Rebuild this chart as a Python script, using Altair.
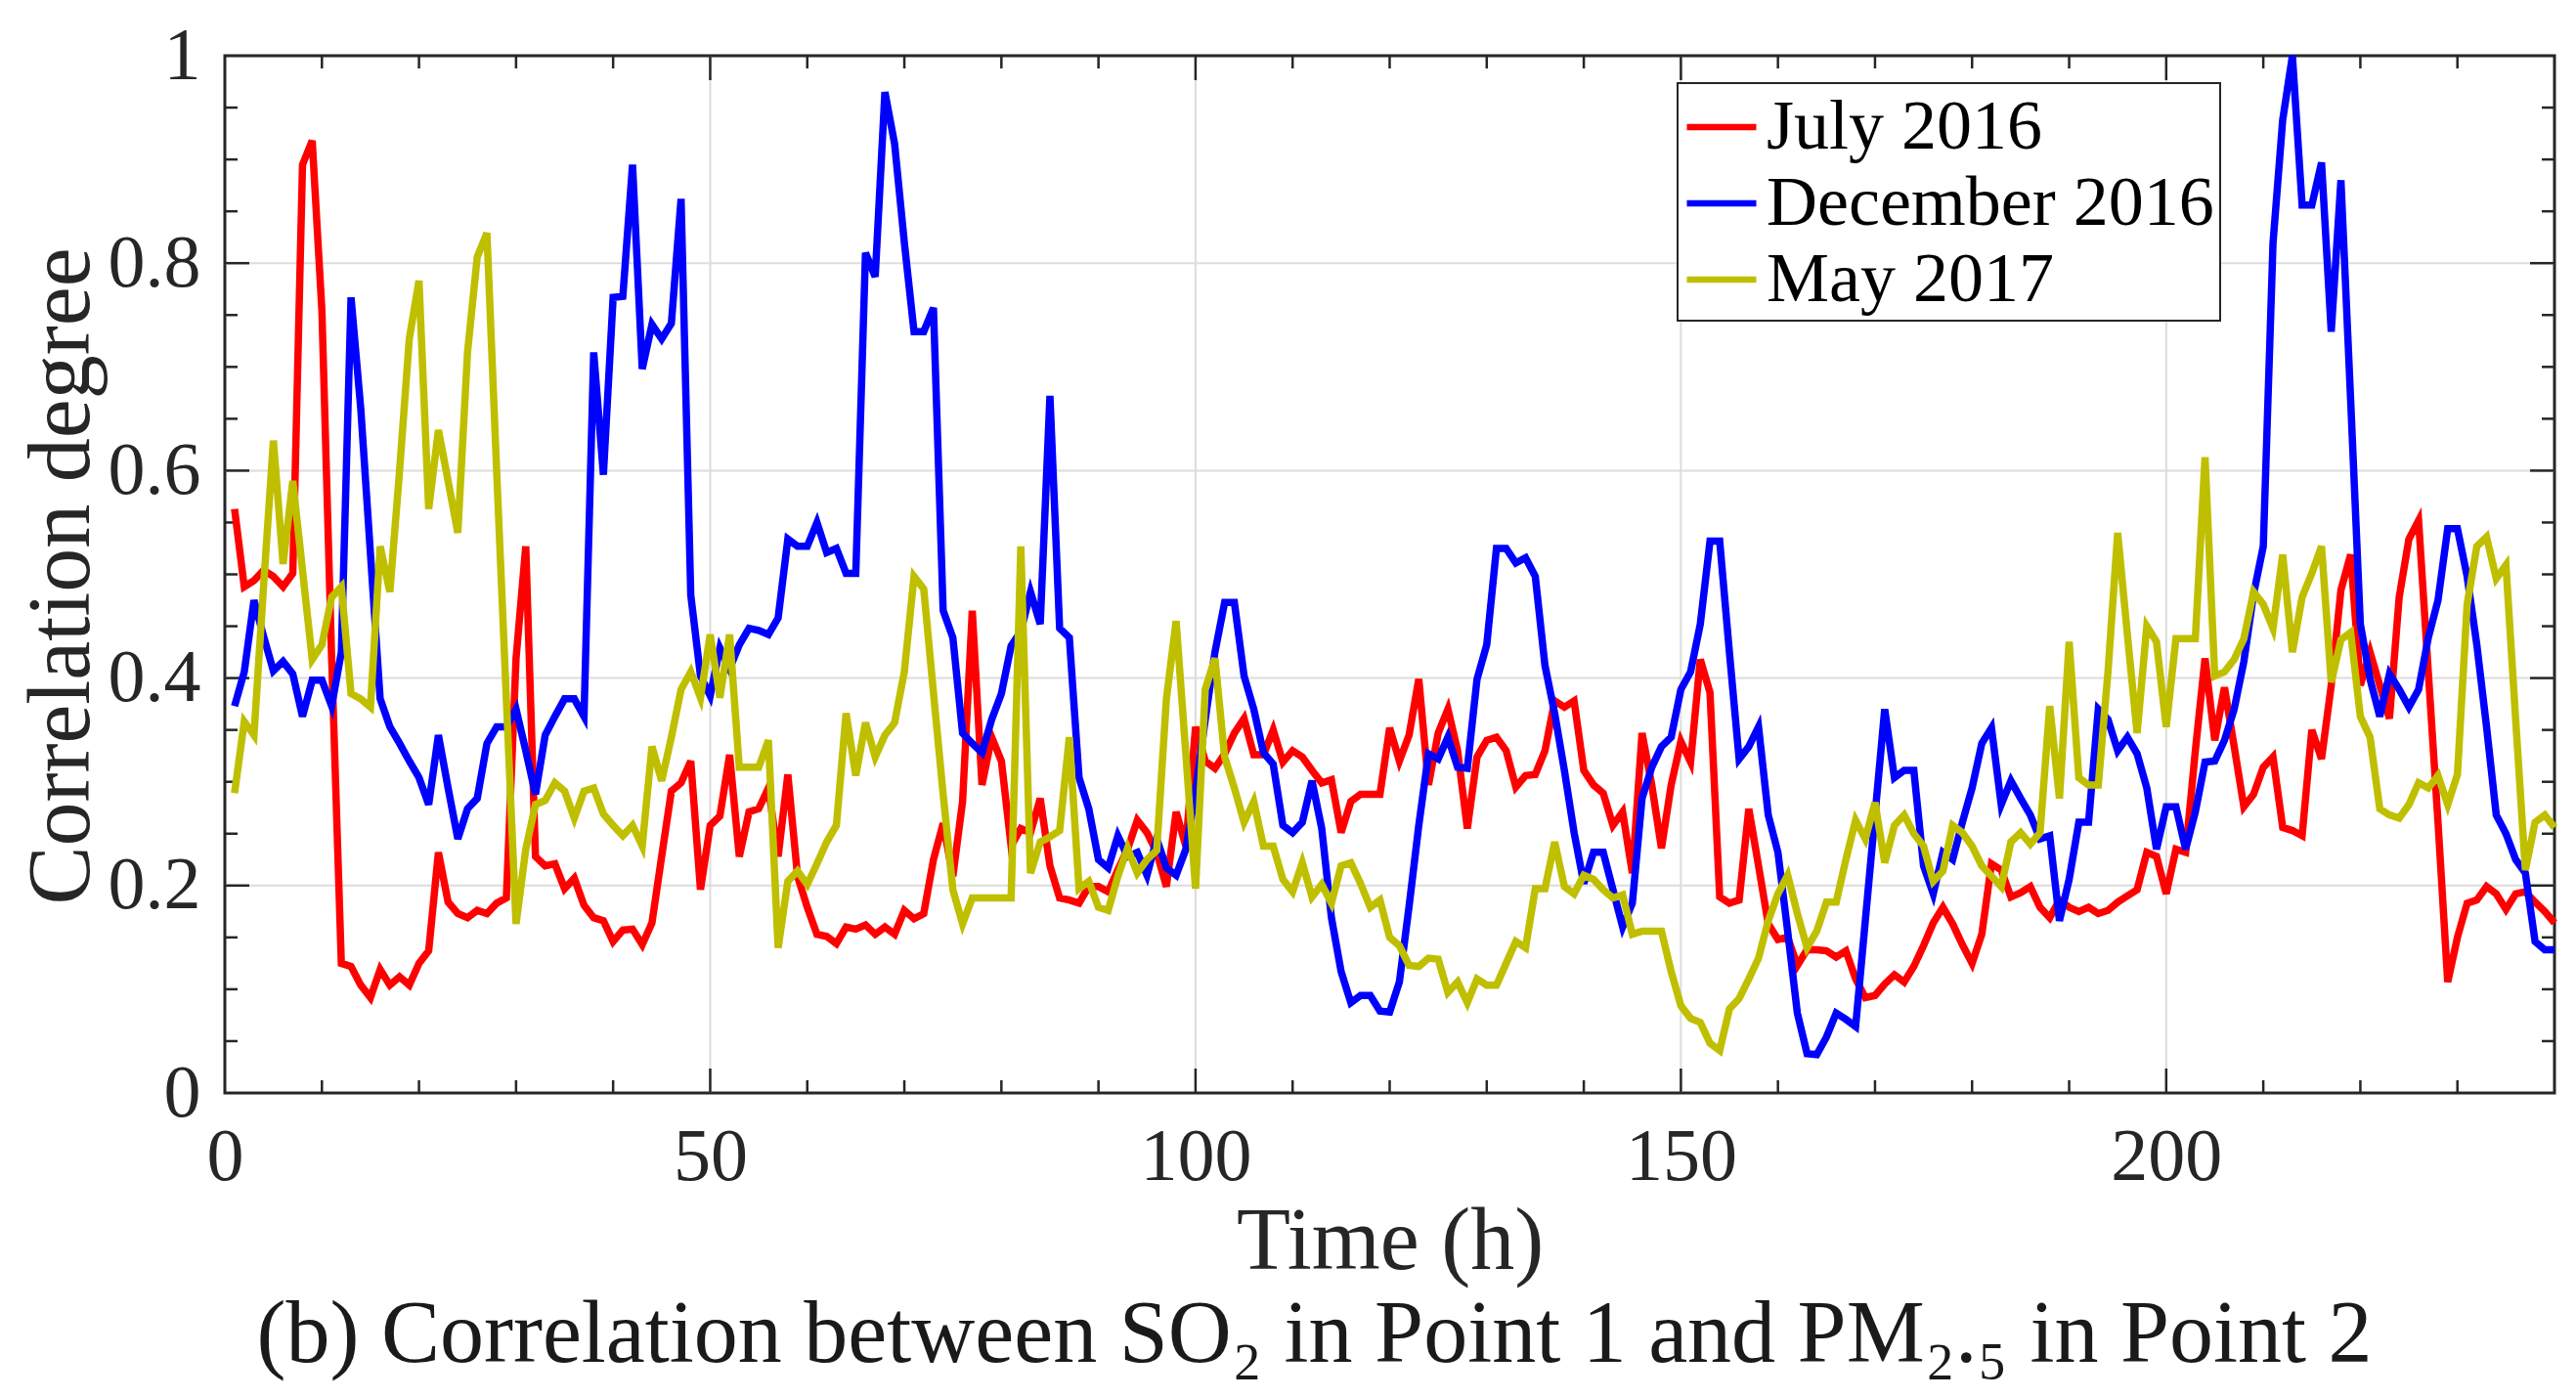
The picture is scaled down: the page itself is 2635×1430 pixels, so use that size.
import altair as alt
import pandas as pd

# ---------------- data ----------------
hours = list(range(1, 241))
series_names = ["July 2016", "December 2016", "May 2017"]
series_colors = ["#ff0000", "#0000ff", "#bfbf00"]

july_2016 = [
    0.563, 0.488, 0.494, 0.504, 0.498, 0.488, 0.501, 0.895, 0.918, 0.754,
    0.420, 0.125, 0.122, 0.104, 0.092, 0.119, 0.104, 0.112, 0.104, 0.125,
    0.137, 0.232, 0.184, 0.173, 0.169, 0.176, 0.173, 0.183, 0.188, 0.419,
    0.527, 0.228, 0.219, 0.221, 0.197, 0.207, 0.181, 0.169, 0.166, 0.146,
    0.157, 0.158, 0.143, 0.164, 0.228, 0.291, 0.299, 0.320, 0.196, 0.258,
    0.267, 0.326, 0.228, 0.271, 0.274, 0.294, 0.228, 0.307, 0.209, 0.179,
    0.153, 0.151, 0.144, 0.160, 0.158, 0.162, 0.153, 0.160, 0.153, 0.176,
    0.168, 0.173, 0.225, 0.260, 0.209, 0.281, 0.465, 0.297, 0.343, 0.320,
    0.238, 0.255, 0.251, 0.284, 0.219, 0.188, 0.186, 0.183, 0.199, 0.199,
    0.194, 0.215, 0.235, 0.263, 0.251, 0.232, 0.199, 0.271, 0.238, 0.353,
    0.320, 0.313, 0.327, 0.347, 0.361, 0.326, 0.326, 0.350, 0.319, 0.330,
    0.324, 0.311, 0.299, 0.302, 0.251, 0.281, 0.288, 0.288, 0.288, 0.352,
    0.320, 0.345, 0.399, 0.297, 0.347, 0.370, 0.330, 0.255, 0.324, 0.340,
    0.343, 0.330, 0.295, 0.306, 0.307, 0.330, 0.378, 0.372, 0.378, 0.311,
    0.297, 0.289, 0.258, 0.271, 0.212, 0.347, 0.297, 0.236, 0.297, 0.339,
    0.319, 0.418, 0.386, 0.189, 0.183, 0.186, 0.274, 0.219, 0.163, 0.148,
    0.150, 0.123, 0.138, 0.138, 0.137, 0.131, 0.137, 0.110, 0.092, 0.094,
    0.105, 0.114, 0.107, 0.122, 0.142, 0.164, 0.179, 0.163, 0.143, 0.125,
    0.153, 0.221, 0.215, 0.189, 0.193, 0.199, 0.179, 0.169, 0.186, 0.179,
    0.175, 0.179, 0.173, 0.176, 0.184, 0.190, 0.196, 0.232, 0.228, 0.192,
    0.235, 0.232, 0.330, 0.419, 0.340, 0.391, 0.334, 0.276, 0.288, 0.314,
    0.324, 0.256, 0.253, 0.248, 0.350, 0.322, 0.393, 0.485, 0.519, 0.393,
    0.425, 0.393, 0.361, 0.478, 0.534, 0.552, 0.406, 0.261, 0.107, 0.150,
    0.183, 0.186, 0.199, 0.192, 0.177, 0.192, 0.194, 0.184, 0.175, 0.164,
]

december_2016 = [
    0.373, 0.406, 0.475, 0.440, 0.407, 0.416, 0.404, 0.363, 0.398, 0.398,
    0.373, 0.425, 0.767, 0.660, 0.520, 0.380, 0.353, 0.337, 0.320, 0.304,
    0.278, 0.345, 0.294, 0.245, 0.274, 0.284, 0.337, 0.353, 0.353, 0.370,
    0.330, 0.288, 0.345, 0.363, 0.380, 0.380, 0.363, 0.714, 0.596, 0.767,
    0.768, 0.895, 0.698, 0.741, 0.727, 0.742, 0.862, 0.480, 0.402, 0.383,
    0.429, 0.409, 0.432, 0.448, 0.446, 0.442, 0.458, 0.534, 0.527, 0.527,
    0.550, 0.521, 0.525, 0.501, 0.501, 0.810, 0.787, 0.965, 0.915, 0.820,
    0.734, 0.734, 0.757, 0.465, 0.439, 0.347, 0.337, 0.328, 0.360, 0.385,
    0.431, 0.445, 0.483, 0.452, 0.672, 0.448, 0.439, 0.304, 0.274, 0.225,
    0.217, 0.248, 0.228, 0.232, 0.210, 0.245, 0.217, 0.210, 0.235, 0.290,
    0.360, 0.425, 0.473, 0.473, 0.402, 0.370, 0.328, 0.317, 0.258, 0.251,
    0.261, 0.301, 0.255, 0.169, 0.117, 0.087, 0.094, 0.094, 0.079, 0.078,
    0.107, 0.180, 0.258, 0.327, 0.322, 0.343, 0.314, 0.313, 0.399, 0.432,
    0.525, 0.525, 0.511, 0.516, 0.498, 0.412, 0.366, 0.311, 0.251, 0.202,
    0.232, 0.232, 0.196, 0.160, 0.183, 0.284, 0.314, 0.334, 0.343, 0.389,
    0.406, 0.452, 0.532, 0.532, 0.425, 0.322, 0.334, 0.353, 0.268, 0.232,
    0.156, 0.077, 0.038, 0.037, 0.054, 0.077, 0.071, 0.064, 0.166, 0.268,
    0.370, 0.304, 0.311, 0.311, 0.219, 0.192, 0.232, 0.225, 0.261, 0.294,
    0.337, 0.352, 0.278, 0.301, 0.284, 0.268, 0.245, 0.248, 0.166, 0.206,
    0.261, 0.261, 0.370, 0.360, 0.330, 0.343, 0.327, 0.294, 0.235, 0.276,
    0.276, 0.235, 0.271, 0.319, 0.320, 0.340, 0.370, 0.416, 0.481, 0.527,
    0.819, 0.938, 1.000, 0.856, 0.856, 0.897, 0.734, 0.880, 0.668, 0.452,
    0.399, 0.363, 0.404, 0.389, 0.372, 0.389, 0.439, 0.475, 0.544, 0.544,
    0.498, 0.432, 0.353, 0.268, 0.250, 0.225, 0.212, 0.146, 0.138, 0.138,
]

may_2017 = [
    0.289, 0.358, 0.345, 0.490, 0.629, 0.510, 0.590, 0.504, 0.418, 0.432,
    0.478, 0.488, 0.385, 0.380, 0.372, 0.527, 0.483, 0.600, 0.727, 0.783,
    0.563, 0.639, 0.590, 0.540, 0.714, 0.806, 0.829, 0.600, 0.380, 0.163,
    0.235, 0.278, 0.282, 0.299, 0.291, 0.265, 0.291, 0.294, 0.269, 0.258,
    0.248, 0.258, 0.238, 0.334, 0.301, 0.343, 0.389, 0.406, 0.381, 0.442,
    0.381, 0.442, 0.314, 0.314, 0.314, 0.340, 0.140, 0.204, 0.214, 0.201,
    0.221, 0.242, 0.258, 0.366, 0.306, 0.357, 0.324, 0.345, 0.357, 0.406,
    0.498, 0.486, 0.386, 0.288, 0.196, 0.163, 0.188, 0.188, 0.188, 0.188,
    0.188, 0.527, 0.212, 0.242, 0.247, 0.253, 0.343, 0.197, 0.204, 0.179,
    0.176, 0.209, 0.236, 0.212, 0.225, 0.234, 0.380, 0.455, 0.327, 0.197,
    0.389, 0.419, 0.324, 0.294, 0.261, 0.281, 0.238, 0.238, 0.206, 0.194,
    0.222, 0.189, 0.201, 0.183, 0.219, 0.222, 0.202, 0.179, 0.186, 0.150,
    0.142, 0.123, 0.122, 0.130, 0.129, 0.097, 0.107, 0.087, 0.110, 0.104,
    0.104, 0.125, 0.146, 0.140, 0.197, 0.197, 0.242, 0.199, 0.192, 0.210,
    0.206, 0.196, 0.188, 0.191, 0.153, 0.156, 0.156, 0.156, 0.117, 0.084,
    0.072, 0.068, 0.048, 0.041, 0.081, 0.091, 0.110, 0.130, 0.166, 0.192,
    0.210, 0.173, 0.140, 0.156, 0.184, 0.184, 0.225, 0.263, 0.245, 0.280,
    0.222, 0.258, 0.268, 0.250, 0.238, 0.204, 0.214, 0.258, 0.251, 0.238,
    0.219, 0.209, 0.199, 0.242, 0.251, 0.240, 0.251, 0.373, 0.284, 0.435,
    0.304, 0.297, 0.297, 0.406, 0.540, 0.442, 0.347, 0.450, 0.435, 0.353,
    0.438, 0.438, 0.438, 0.613, 0.402, 0.406, 0.418, 0.438, 0.483, 0.471,
    0.448, 0.519, 0.425, 0.478, 0.501, 0.527, 0.396, 0.437, 0.444, 0.363,
    0.343, 0.274, 0.268, 0.265, 0.278, 0.299, 0.294, 0.306, 0.278, 0.307,
    0.471, 0.527, 0.536, 0.496, 0.509, 0.360, 0.215, 0.261, 0.268, 0.256,
]

x_label_values = [0, 50, 100, 150, 200]
y_label_values = [0, 0.2, 0.4, 0.6, 0.8, 1]
x_grid_values = [50, 100, 150, 200]
y_grid_values = [0.2, 0.4, 0.6, 0.8]
x_minor_values = [v for v in range(10, 240, 10) if v % 50]
y_minor_values = [round(0.05 * i, 2) for i in range(1, 20) if i % 4]

caption = "(b) Correlation between SO\u2082 in Point 1 and PM\u2082.\u2085 in Point 2"

# ---------------- styling ----------------
FONT = "Liberation Serif"
AX = "#262626"
W, H = 2383, 1061
MAJ, MIN = 25, 13

rows = []
for name, vals in zip(series_names, [july_2016, december_2016, may_2017]):
    for h, v in zip(hours, vals):
        rows.append({"hour": h, "value": v, "series": name})
df = pd.DataFrame(rows)

xs = alt.Scale(domain=[0, 240], nice=False, zero=False)
ys = alt.Scale(domain=[0, 1], nice=False, zero=False)

grid_x = alt.Chart(pd.DataFrame({"gx": x_grid_values})).mark_rule(
    color="#dcdcdc", strokeWidth=2
).encode(x=alt.X("gx:Q", scale=xs, axis=None))
grid_y = alt.Chart(pd.DataFrame({"gy": y_grid_values})).mark_rule(
    color="#dcdcdc", strokeWidth=2
).encode(y=alt.Y("gy:Q", scale=ys, axis=None))


def x_ticks(vals, length):
    base = alt.Chart(pd.DataFrame({"tx": vals})).mark_rule(color=AX, strokeWidth=2.5)
    xe = alt.X("tx:Q", scale=xs, axis=None)
    return [
        base.encode(x=xe, y=alt.value(H), y2=alt.value(H - length)),
        base.encode(x=xe, y=alt.value(0), y2=alt.value(length)),
    ]


def y_ticks(vals, length):
    base = alt.Chart(pd.DataFrame({"ty": vals})).mark_rule(color=AX, strokeWidth=2.5)
    ye = alt.Y("ty:Q", scale=ys, axis=None)
    return [
        base.encode(y=ye, x=alt.value(0), x2=alt.value(length)),
        base.encode(y=ye, x=alt.value(W), x2=alt.value(W - length)),
    ]


ticks = (
    x_ticks(x_grid_values, MAJ)
    + x_ticks(x_minor_values, MIN)
    + y_ticks(y_grid_values, MAJ)
    + y_ticks(y_minor_values, MIN)
)

lines = alt.Chart(df).mark_line(strokeWidth=7.5).encode(
    x=alt.X(
        "hour:Q",
        scale=xs,
        axis=alt.Axis(
            values=x_label_values, format="d", title="Time (h)",
            grid=False, ticks=False, domain=False, labelFlush=False,
            labelFont=FONT, labelFontSize=76, labelColor=AX, labelPadding=28,
            titleFont=FONT, titleFontSize=90, titleFontWeight="normal",
            titleColor=AX, titleY=179, titleBaseline="alphabetic",
        ),
    ),
    y=alt.Y(
        "value:Q",
        scale=ys,
        axis=alt.Axis(
            values=y_label_values, format="~g", title="Correlation degree",
            grid=False, ticks=False, domain=False, labelFlush=False,
            labelFont=FONT, labelFontSize=76, labelColor=AX, labelPadding=25,
            titleFont=FONT, titleFontSize=90, titleFontWeight="normal",
            titleColor=AX, titleX=-140, titleY=532, titleAngle=270,
            titleAlign="center", titleBaseline="alphabetic",
        ),
    ),
    color=alt.Color(
        "series:N",
        scale=alt.Scale(domain=series_names, range=series_colors),
        title=None,
        legend=alt.Legend(
            orient="none", legendX=1486, legendY=28, direction="vertical",
            symbolType="stroke", symbolSize=5041, symbolStrokeWidth=6.5,
            labelFont=FONT, labelFontSize=72, labelColor="black",
            labelOffset=7, labelLimit=1000, rowPadding=3, padding=6,
            strokeColor=AX, fillColor="white",
        ),
    ),
)

chart = (
    alt.layer(grid_x, grid_y, *ticks, lines)
    .resolve_axis(x="independent", y="independent")
    .properties(
        width=W,
        height=H,
        autosize=alt.AutoSizeParams(type="none"),
        padding={"left": 222, "top": 49, "right": 14, "bottom": 304},
        title=alt.TitleParams(
            text=caption, orient="bottom", anchor="middle", font=FONT,
            fontSize=90, fontWeight="normal", color="#1a1a1a",
            baseline="alphabetic", offset=78, dx=-77,
        ),
    )
    .configure_view(stroke=AX, strokeWidth=3)
    .configure_legend(strokeWidth=2)
)

chart.save("out.html", embed_options={"renderer": "svg", "actions": False})
